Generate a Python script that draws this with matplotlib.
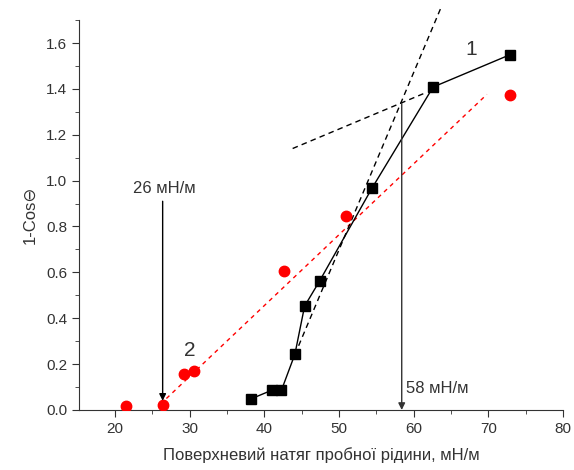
import matplotlib
matplotlib.use("Agg")
import matplotlib.pyplot as plt
from matplotlib.ticker import MultipleLocator

plt.rcParams['font.family'] = ['Liberation Sans', 'DejaVu Sans']

# series 1 (squares, joined)
x1 = [38.2, 41.0, 42.3, 44.1, 45.4, 47.4, 54.4, 62.6, 72.9]
y1 = [0.048, 0.086, 0.086, 0.243, 0.453, 0.562, 0.966, 1.408, 1.549]

# series 2 (red circles)
x2 = [21.5, 26.4, 29.3, 30.6, 42.7, 50.9, 72.9]
y2 = [0.019, 0.023, 0.155, 0.168, 0.607, 0.845, 1.375]

# guide lines
fit2_x = [26.9, 69.8]
fit2_y = [0.05, 1.376]
steep_x = [44.6, 63.6]
steep_y = [0.28, 1.75]
flat_x = [43.8, 61.3]
flat_y = [1.14, 1.379]

fig = plt.figure(figsize=(5.74, 4.70), dpi=100)
ax = fig.add_axes([0.1376, 0.1277, 0.8434, 0.8296])

ax.plot(fit2_x, fit2_y, color='red', lw=1, ls=(0, (3, 3)))
ax.plot(steep_x, steep_y, color='black', lw=1, ls=(0, (4, 3)), clip_on=False)
ax.plot(flat_x, flat_y, color='black', lw=1, ls=(0, (4, 3)))

ax.plot(x1, y1, color='black', lw=1, marker='s', ms=7, zorder=3)
ax.plot(x2, y2, ls='none', color='red', marker='o', ms=7.5, zorder=3)

ax.annotate('', xy=(26.4, 0.04), xytext=(26.4, 0.91),
            arrowprops=dict(arrowstyle='-|>', color='black', lw=1, mutation_scale=10, shrinkA=0, shrinkB=0))
ax.annotate('', xy=(58.4, 0.0), xytext=(58.4, 1.336),
            arrowprops=dict(arrowstyle='-|>', color='#333333', lw=1, mutation_scale=10, shrinkA=0, shrinkB=0))

txtc = '#333333'
ax.text(22.4, 0.965, '26 мН/м', fontsize=12, color=txtc, va='center', ha='left')
ax.text(59.0, 0.095, '58 мН/м', fontsize=12, color=txtc, va='center', ha='left')
ax.text(67.7, 1.57, '1', fontsize=15, color=txtc, va='center', ha='center')
ax.text(30.0, 0.26, '2', fontsize=15, color=txtc, va='center', ha='center')

ax.set_xlim(15.2, 80)
ax.set_ylim(0, 1.7)
ax.xaxis.set_major_locator(MultipleLocator(10))
ax.xaxis.set_minor_locator(MultipleLocator(5))
ax.yaxis.set_major_locator(MultipleLocator(0.2))
ax.yaxis.set_minor_locator(MultipleLocator(0.1))
ax.yaxis.set_major_formatter(matplotlib.ticker.FormatStrFormatter('%.1f'))
ax.set_xticks([20, 30, 40, 50, 60, 70, 80])

for s in ['top', 'right']:
    ax.spines[s].set_visible(False)
for s in ['left', 'bottom']:
    ax.spines[s].set_color('#333333')
ax.tick_params(which='both', direction='out', colors='#333333', labelsize=11)
ax.tick_params(which='major', length=5)
ax.tick_params(which='minor', length=3)

ax.set_xlabel('Поверхневий натяг пробної рідини, мН/м', fontsize=12, color=txtc, labelpad=8)
ax.set_ylabel('1-Cos⊖', fontsize=12, color=txtc, labelpad=6)

fig.savefig('out.png', dpi=100)
